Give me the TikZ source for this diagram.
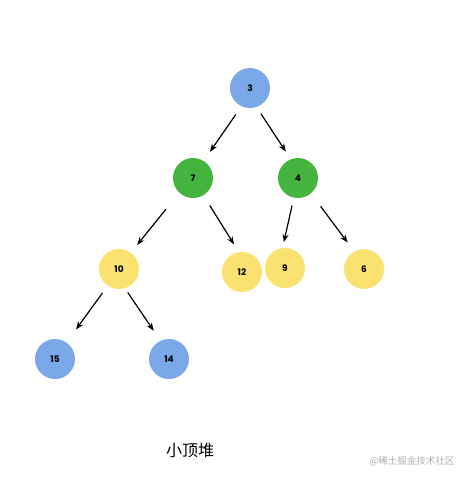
\documentclass[tikz,border=0pt]{standalone}
\usepackage{fontspec}
\setsansfont{Poppins}
\newfontfamily\cjk{Noto Sans CJK SC}
\usetikzlibrary{arrows.meta}
\definecolor{heapblue}{RGB}{122,168,232}
\definecolor{heapgreen}{RGB}{69,180,63}
\definecolor{heapyellow}{RGB}{251,226,112}
\definecolor{markgrey}{RGB}{175,175,175}

\begin{document}
\begin{tikzpicture}[x=1pt,y=-1pt,
    key/.style={circle,minimum size=40pt,inner sep=0pt,font=\sffamily\bfseries\fontsize{9}{9}\selectfont},
    edge/.style={-{Stealth[length=8pt,width=6pt]},line width=1.2pt}]
  \useasboundingbox (0,0) rectangle (471,480);
  \node[key,fill=heapblue] (n3) at (250,88) {3};
  \node[key,fill=heapgreen] (n7) at (193,178) {7};
  \node[key,fill=heapgreen] (n4) at (298,178) {4};
  \node[key,fill=heapyellow] (n10) at (119,269) {10};
  \node[key,fill=heapyellow] (n12) at (242,272) {12};
  \node[key,fill=heapyellow] (n9) at (285,268) {9};
  \node[key,fill=heapyellow] (n6) at (364,269) {6};
  \node[key,fill=heapblue] (n15) at (55,359) {15};
  \node[key,fill=heapblue] (n14) at (169,359) {14};
  \draw[edge,shorten <=10pt,shorten >=11pt] (n3.-115) -- (n7.58);
  \draw[edge,shorten <=8pt,shorten >=9pt] (n3.-71) -- (n4.111);
  \draw[edge,shorten <=21pt,shorten >=10pt] (n7.-133) -- (n10.54);
  \draw[edge,shorten <=12pt,shorten >=9pt] (n7.-59) -- (n12.99);
  \draw[edge,shorten <=8pt,shorten >=6pt] (n4.-102) -- (n9.97);
  \draw[edge,shorten <=16pt,shorten >=11pt] (n4.-50) -- (n6.119);
  \draw[edge,shorten <=9pt,shorten >=16pt] (n10.-124) -- (n15.55);
  \draw[edge,shorten <=5pt,shorten >=12pt] (n10.-73) -- (n14.115);
  \node[font=\cjk\fontsize{16}{16}\selectfont] (title) at (190,450) {小顶堆};
  \node[font=\cjk\fontsize{9.5}{9.5}\selectfont,text=markgrey] (mark) at (412,461) {@稀土掘金技术社区};
\end{tikzpicture}
\end{document}
